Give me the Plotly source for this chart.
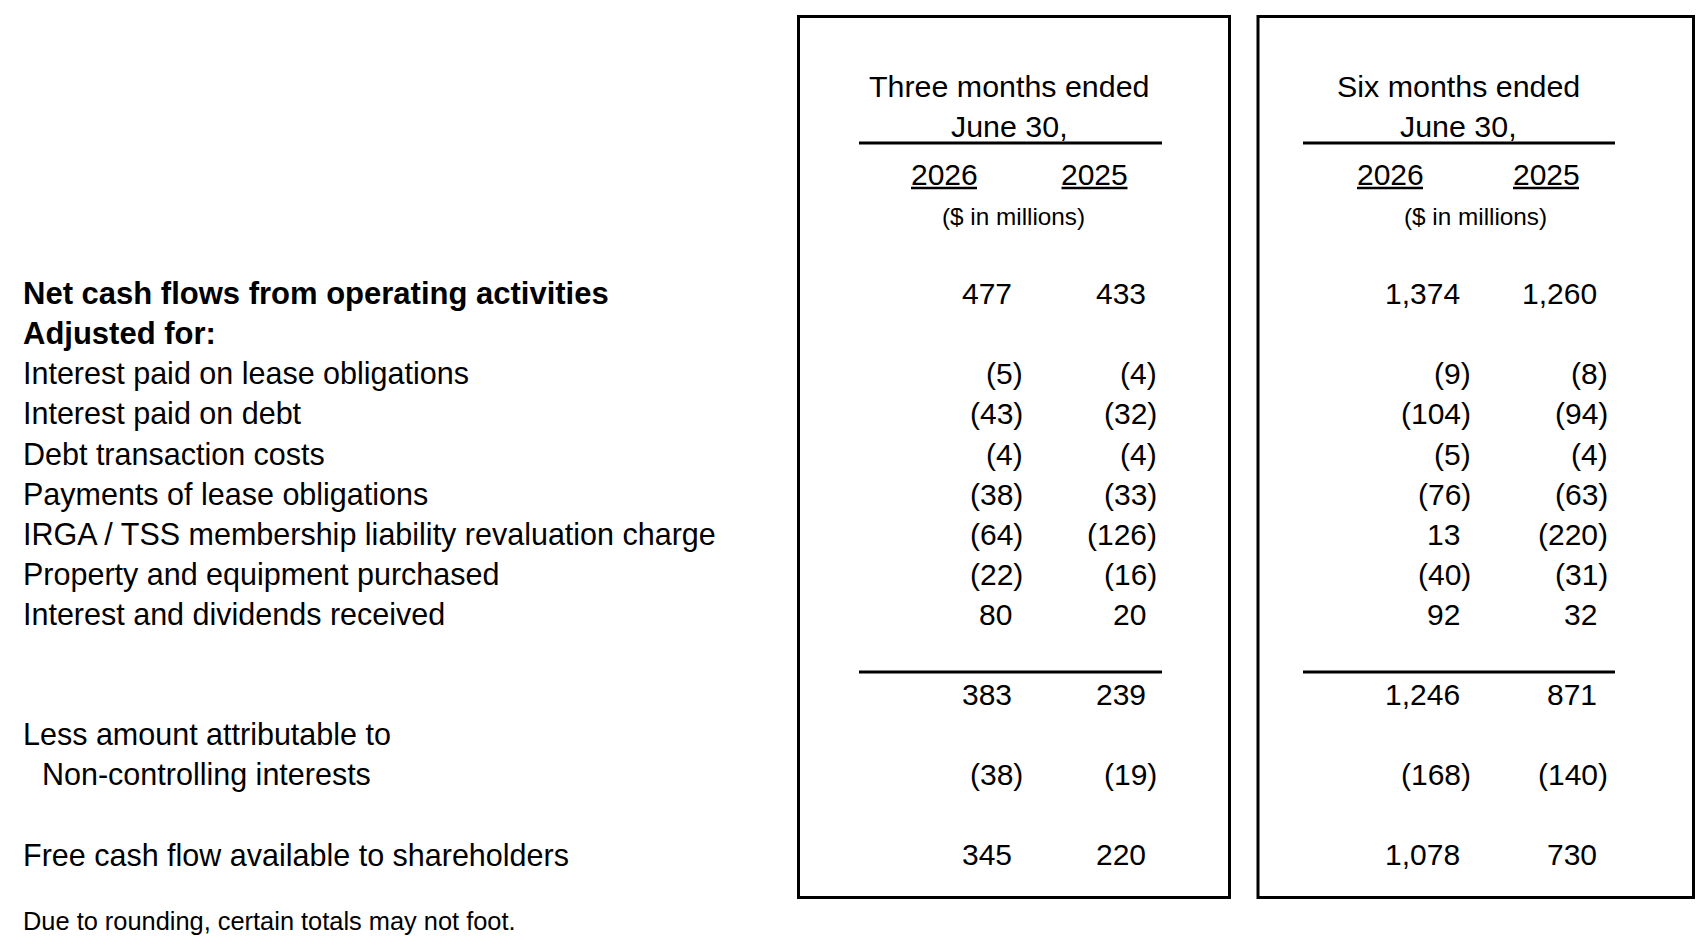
import plotly.graph_objects as go

# --- data -------------------------------------------------------------
row_labels = [
    "Net cash flows from operating activities",
    "Adjusted for:",
    "Interest paid on lease obligations",
    "Interest paid on debt",
    "Debt transaction costs",
    "Payments of lease obligations",
    "IRGA / TSS membership liability revaluation charge",
    "Property and equipment purchased",
    "Interest and dividends received",
    "",
    "Less amount attributable to",
    "Non-controlling interests",
    "Free cash flow available to shareholders",
]
three_2026 = [477, None, -5, -43, -4, -38, -64, -22, 80, 383, None, -38, 345]
three_2025 = [433, None, -4, -32, -4, -33, -126, -16, 20, 239, None, -19, 220]
six_2026 = [1374, None, -9, -104, -5, -76, 13, -40, 92, 1246, None, -168, 1078]
six_2025 = [1260, None, -8, -94, -4, -63, -220, -31, 32, 871, None, -140, 730]

period_titles = ["Three months ended", "Six months ended"]
period_dates = ["June 30,", "June 30,"]
years = ["2026", "2025", "2026", "2025"]
unit_label = "($ in millions)"
footnote = "Due to rounding, certain totals may not foot."

# --- layout helpers ---------------------------------------------------
# page has an 8px body margin, so the figure is shrunk by 16px and the
# axes are set to screen pixels
WIN_W, WIN_H, PAGE_M = 1706, 948, 8
FONT = "Liberation Sans, Arial, sans-serif"
row_lines = [0, 1, 2, 3, 4, 5, 6, 7, 8, 10, 11, 12, 14]   # text line of each row
bold_rows = [0, 1]
indent_rows = [11]
TOP, STEP = 293.8, 40.05
row_y = lambda line: TOP + STEP * line

col_right = [1014.4, 1148.3, 1462.2, 1599.1]   # right edge of positive figures
PAREN = 11
group_center = [1009, 1458]
unit_center = [1013, 1475]
year_center = [944, 1094.5, 1390, 1546]
YEAR_HALF = 33
group_span = [(859, 1162), (1303, 1615)]
boxes = [(798.5, 1229.5), (1258, 1693.5)]

fmt = lambda v: "(" + format(abs(v), ",") + ")" if v < 0 else format(v, ",")

ann = []
txt = lambda x, y, s, size=30, anchor="left", bold=False: dict(
    x=x, y=y, text=s, xref="x", yref="y", showarrow=False,
    xanchor=anchor, yanchor="middle",
    font=dict(family=FONT, size=size, color="black", weight="bold" if bold else "normal"))

for i, label in enumerate(row_labels):
    if label:
        x0 = 40 if i in indent_rows else 21
        ann.append(txt(x0, row_y(row_lines[i]), label, size=31 if i in bold_rows else 30.5,
                       bold=i in bold_rows))

for c, col in enumerate([three_2026, three_2025, six_2026, six_2025]):
    for i, v in enumerate(col):
        if v is None:
            continue
        x = col_right[c] + (PAREN if v < 0 else 0)
        ann.append(txt(x, row_y(row_lines[i]), fmt(v), anchor="right"))

for g in range(2):
    ann.append(txt(group_center[g], row_y(-5.2), period_titles[g], size=30.4, anchor="center"))
    ann.append(txt(group_center[g], row_y(-4.2), period_dates[g], size=30.4, anchor="center"))
    ann.append(txt(unit_center[g], row_y(-1.93), unit_label, size=24.3, anchor="center"))
for c, yr in enumerate(years):
    ann.append(txt(year_center[c], row_y(-2.97), yr, anchor="center"))

ann.append(txt(21, 921, footnote, size=25.4))

line = dict(color="black", width=3)
shapes = []
for x0, x1 in boxes:
    shapes.append(dict(type="rect", xref="x", yref="y", x0=x0, x1=x1, y0=16.5, y1=897.5, line=line))
for x0, x1 in group_span:
    for yy in [143, 672]:
        shapes.append(dict(type="line", xref="x", yref="y", x0=x0, x1=x1, y0=yy, y1=yy, line=line))
for xc in year_center:
    shapes.append(dict(type="line", xref="x", yref="y", x0=xc - YEAR_HALF, x1=xc + YEAR_HALF,
                       y0=188, y1=188, line=dict(color="black", width=2.5)))

fig = go.Figure()
axisDictionary = dict(visible=False, showgrid=False, zeroline=False, fixedrange=True)
fig.update_layout(
    width=WIN_W - 2 * PAGE_M, height=WIN_H - 2 * PAGE_M,
    margin=dict(l=0, r=0, t=0, b=0),
    paper_bgcolor="white", plot_bgcolor="white",
    xaxis=dict(range=[PAGE_M, WIN_W - PAGE_M], **axisDictionary),
    yaxis=dict(range=[WIN_H - PAGE_M, PAGE_M], **axisDictionary),
    annotations=ann, shapes=shapes, showlegend=False,
)
fig.write_html("out.html")
